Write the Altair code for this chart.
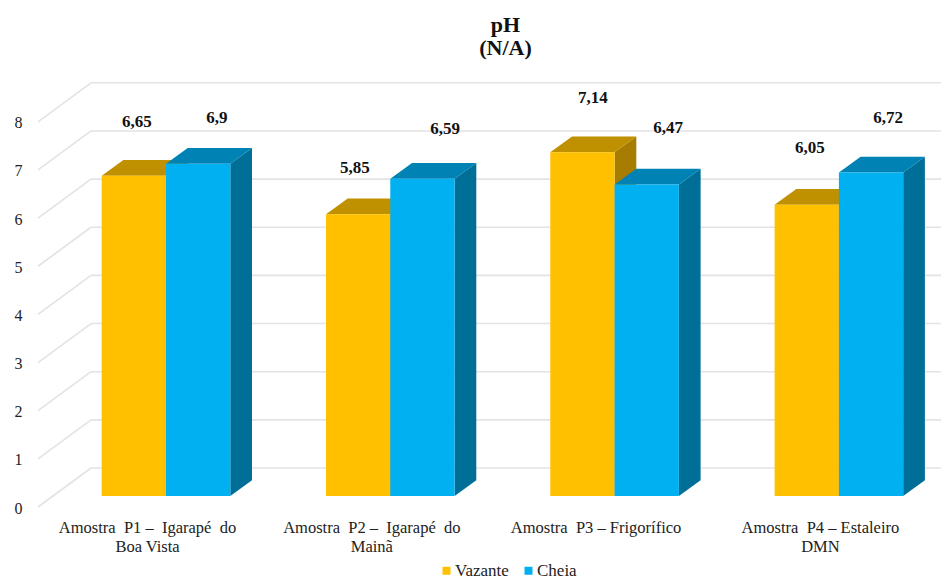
import altair as alt
import pandas as pd

NB = "\u00a0"
CATEGORIES = [f"Amostra{NB}{NB}P1 –{NB}{NB}Igarapé{NB}{NB}do|Boa Vista", f"Amostra{NB}{NB}P2 –{NB}{NB}Igarapé{NB}{NB}do|Mainã",
              f"Amostra{NB}{NB}P3 – Frigorífico", f"Amostra{NB}{NB}P4 – Estaleiro|DMN"]
VAZANTE = [6.65, 5.85, 7.14, 6.05]
CHEIA = [6.9, 6.59, 6.47, 6.72]
SERIES = ["Vazante", "Cheia"]
TICKS = [0, 1, 2, 3, 4, 5, 6, 7, 8]

FONT = "Liberation Serif"
# page geometry (px)
PX_G, PX_V = 224.3, 48.15
X0_PAGE, Y0_PAGE = 166.0, 496.0
LEFT, RIGHT, TOP, BOTTOM = 38.0, 941.0, 70.0, 507.0
def gu(px): return px / PX_G
def vu(px): return px / PX_V
XDOM = [(LEFT - X0_PAGE) / PX_G, (RIGHT - X0_PAGE) / PX_G]
YDOM = [(Y0_PAGE - BOTTOM) / PX_V, (Y0_PAGE - TOP) / PX_V]
BAR_W = gu(64.3)
DX, DV = gu(21.7), vu(15.7)          # bar depth
WALL_X = gu(91 - X0_PAGE)            # back wall left edge
WALL_V = vu(28)                      # back wall lift
FRONT_V = vu(-11)                    # front edge drop
# hand nudges of the value labels, px from the bar's front-top centre
NUDGE_X = {"Vazante": [3, -3.3, 10.4, 3.1], "Cheia": [18.7, 22.7, 21.4, 17.1]}
NUDGE_Y = {"Vazante": [-54, -46.3, -54.5, -56.7], "Cheia": [-45.8, -49.7, -56.8, -54.4]}

xs = alt.Scale(domain=XDOM, nice=False, zero=False)
ys = alt.Scale(domain=YDOM, nice=False, zero=False)

rows = []
for s, vals in zip(SERIES, [VAZANTE, CHEIA]):
    for g, v in enumerate(vals):
        l = g - BAR_W if s == "Vazante" else g
        rows.append(dict(s=s, g=g, v=v, l=l, r=l + BAR_W,
                         lx=l + BAR_W / 2 + gu(NUDGE_X[s][g]),
                         ly=v - vu(NUDGE_Y[s][g]),
                         t=str(v).replace(".", ",")))
bars = pd.DataFrame(rows)

side = []
top = []
for _, b in bars.iterrows():
    side += [dict(s=b.s, g=b.g, x=b.r, y=b.v, y2=0.0),
             dict(s=b.s, g=b.g, x=b.r + DX, y=b.v + DV, y2=DV)]
    top += [dict(s=b.s, g=b.g, y=b.v, x=b.l, x2=b.r),
            dict(s=b.s, g=b.g, y=b.v + DV, x=b.l + DX, x2=b.r + DX)]
side = pd.DataFrame(side)
top = pd.DataFrame(top)

grid = pd.DataFrame([dict(x=WALL_X, x2=XDOM[1], y=t + WALL_V, y2=t + WALL_V) for t in TICKS] +
                    [dict(x=XDOM[0], x2=WALL_X, y=t + FRONT_V, y2=t + WALL_V) for t in TICKS])

label_js = "[" + ",".join("'" + c + "'" for c in CATEGORIES) + "]"
xaxis = alt.Axis(values=[0, 1, 2, 3], title=None, grid=False, domain=False, ticks=False,
                 labelExpr=f"split({label_js}[datum.value], '|')",
                 labelFont=FONT, labelFontSize=16.5, labelColor="#222222", labelPadding=12,
                 labelLineHeight=19, labelOffset=-19, labelAngle=0, labelOverlap=False,
                 labelBaseline="top")
yaxis = alt.Axis(values=TICKS, title=None, grid=False, domain=False, ticks=False, labelOffset=12,
                 labelFont=FONT, labelFontSize=16, labelColor="#222222", labelPadding=16)

gridlayer = alt.Chart(grid).mark_rule(color="#e3e3e3", strokeWidth=1.6).encode(
    x=alt.X("x:Q", scale=xs, axis=xaxis), x2="x2:Q",
    y=alt.Y("y:Q", scale=ys, axis=yaxis), y2="y2:Q")

color = alt.Color("s:N", scale=alt.Scale(domain=SERIES, range=["#ffc000", "#00b0f0"]),
                  legend=alt.Legend(title=None, orient="none", legendX=400, legendY=492,
                                    direction="horizontal", symbolType="square", symbolSize=64,
                                    symbolStrokeWidth=0, labelFont=FONT, labelFontSize=17,
                                    labelColor="#222222", columnPadding=11, labelOffset=0,
                                    padding=0))

TOPC = {"Vazante": "#bf9000", "Cheia": "#0083b4"}
SIDEC = {"Vazante": "#a67d00", "Cheia": "#006f98"}
layers = [gridlayer]
for s in SERIES:
    layers.append(alt.Chart(side[side.s == s]).mark_area(color=SIDEC[s], orient="vertical").encode(
        x=alt.X("x:Q", scale=xs, axis=xaxis),
        y=alt.Y("y:Q", scale=ys, axis=yaxis, stack=None), y2="y2:Q", detail="g:N"))
    layers.append(alt.Chart(top[top.s == s]).mark_area(color=TOPC[s], orient="horizontal").encode(
        y=alt.Y("y:Q", scale=ys, axis=yaxis),
        x=alt.X("x:Q", scale=xs, axis=xaxis, stack=None), x2="x2:Q", detail="g:N"))
    layers.append(alt.Chart(bars[bars.s == s]).mark_rect().encode(
        x=alt.X("l:Q", scale=xs, axis=xaxis), x2="r:Q",
        y=alt.Y("v:Q", scale=ys, axis=yaxis), y2=alt.Y2(datum=0), color=color))
layers.append(alt.Chart(bars).mark_text(font=FONT, fontSize=17, fontWeight="bold", color="#111111",
                                        baseline="middle", align="center").encode(
    x=alt.X("lx:Q", scale=xs, axis=xaxis), y=alt.Y("ly:Q", scale=ys, axis=yaxis), text="t:N"))

chart = alt.layer(*layers).properties(
    width=RIGHT - LEFT, height=BOTTOM - TOP,
    title=alt.TitleParams(text=["pH", "(N/A)"], font=FONT, fontSize=22, fontWeight="bold",
                          color="#111111", anchor="middle", dx=16, lineHeight=23, offset=10),
    padding={"left": LEFT - 8, "top": TOP - 8, "right": 0, "bottom": 73},
    autosize=alt.AutoSizeParams(type="none"),
    background="white",
).configure_view(stroke=None)

chart.save("out.html", embed_options={"renderer": "svg", "actions": False})
